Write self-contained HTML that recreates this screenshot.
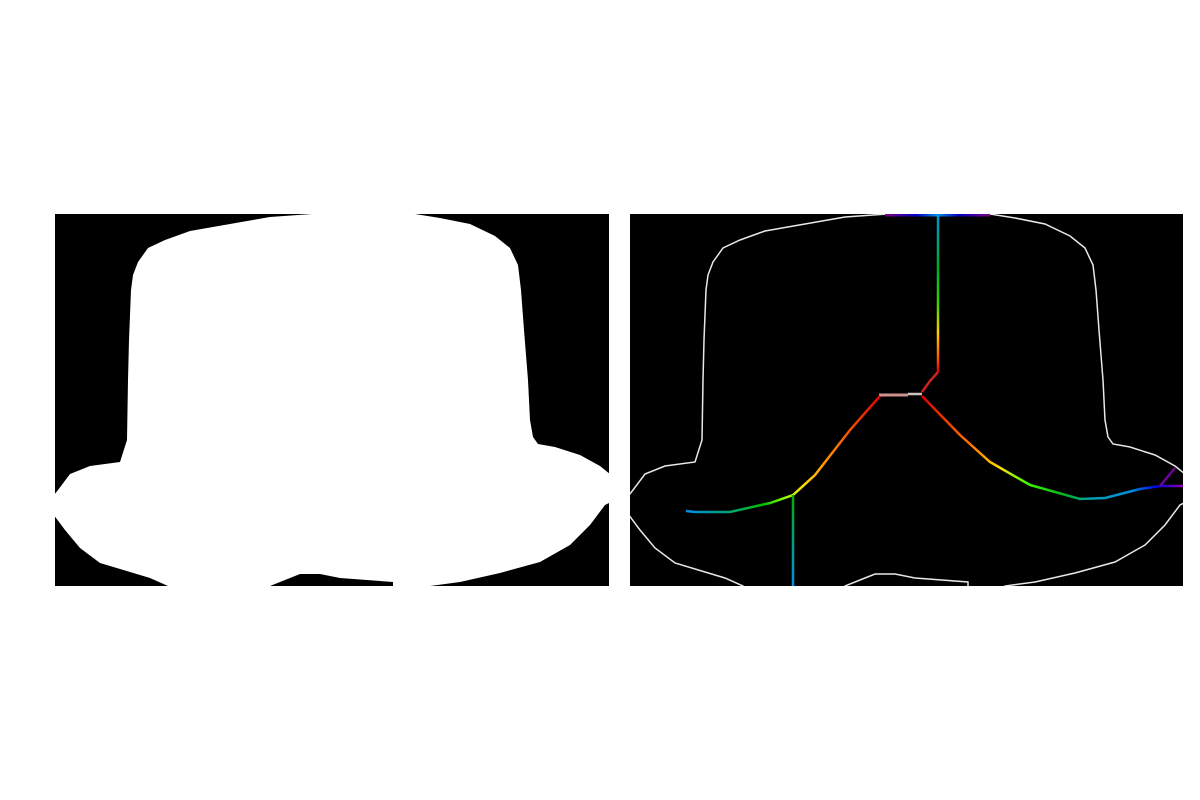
<!DOCTYPE html>
<html><head><meta charset="utf-8"><style>
html,body{margin:0;padding:0;background:#fff;width:1200px;height:800px;overflow:hidden}
svg{display:block}
</style></head><body>
<svg width="1200" height="800" xmlns="http://www.w3.org/2000/svg">
<defs>
<clipPath id="cl"><rect x="55" y="214" width="554" height="372"/></clipPath>
<clipPath id="cr"><rect x="630" y="214" width="553" height="372"/></clipPath>
<linearGradient id="gTop" x1="0" y1="214" x2="0" y2="372" gradientUnits="userSpaceOnUse">
<stop offset="0" stop-color="#0090e0"/><stop offset="0.35" stop-color="#00b020"/><stop offset="0.55" stop-color="#30d000"/><stop offset="0.75" stop-color="#ffd000"/><stop offset="0.9" stop-color="#ff6000"/><stop offset="1" stop-color="#e00000"/></linearGradient>
<linearGradient id="gLeft" x1="880" y1="0" x2="686" y2="0" gradientUnits="userSpaceOnUse">
<stop offset="0" stop-color="#e00000"/><stop offset="0.25" stop-color="#ff8000"/><stop offset="0.4" stop-color="#ffe000"/><stop offset="0.5" stop-color="#80ff00"/><stop offset="0.6" stop-color="#00c000"/><stop offset="0.8" stop-color="#00a080"/><stop offset="1" stop-color="#0090e0"/></linearGradient>
<linearGradient id="gDown" x1="0" y1="495" x2="0" y2="586" gradientUnits="userSpaceOnUse">
<stop offset="0" stop-color="#00b000"/><stop offset="0.5" stop-color="#00a080"/><stop offset="1" stop-color="#0090e0"/></linearGradient>
<linearGradient id="gRight" x1="922" y1="0" x2="1183" y2="0" gradientUnits="userSpaceOnUse">
<stop offset="0" stop-color="#e00000"/><stop offset="0.2" stop-color="#ff8000"/><stop offset="0.3" stop-color="#ffe000"/><stop offset="0.4" stop-color="#40ff00"/><stop offset="0.55" stop-color="#00b020"/><stop offset="0.65" stop-color="#00a0b0"/><stop offset="0.8" stop-color="#0090e0"/><stop offset="0.9" stop-color="#0000e0"/><stop offset="1" stop-color="#9000b0"/></linearGradient>
<linearGradient id="gEdge" x1="885" y1="0" x2="990" y2="0" gradientUnits="userSpaceOnUse">
<stop offset="0" stop-color="#800080"/><stop offset="0.3" stop-color="#0000c0"/><stop offset="0.5" stop-color="#0090e0"/><stop offset="0.7" stop-color="#0000c0"/><stop offset="1" stop-color="#800080"/></linearGradient>
</defs>
<rect x="55" y="214" width="554" height="372" fill="#000"/>
<rect x="630" y="214" width="553" height="372" fill="#000"/>
<g id="maskg" clip-path="url(#cl)"></g>
<g id="outg" clip-path="url(#cr)"></g>
<g id="skel" clip-path="url(#cr)">
<polyline points="885,215 990,215" stroke="url(#gEdge)" stroke-width="3" fill="none"/>
<polyline points="938,214 938,372" stroke="url(#gTop)" stroke-width="2.5" fill="none"/>
<polyline points="938,372 930,381 922,392" stroke="#d02020" stroke-width="2.5" fill="none"/>
<polyline points="879,395 908,395" stroke="#d09090" stroke-width="3" fill="none"/>
<polyline points="908,394 922,394" stroke="#d0c0c0" stroke-width="2.5" fill="none"/>
<polyline points="880,396 850,430 815,475 793,495 770,503 730,512 695,512 686,511" stroke="url(#gLeft)" stroke-width="2.5" fill="none"/>
<polyline points="793,495 793,586" stroke="url(#gDown)" stroke-width="2.5" fill="none"/>
<polyline points="922,396 960,435 990,462 1030,485 1080,499 1105,498 1140,489 1160,486 1183,486" stroke="url(#gRight)" stroke-width="2.5" fill="none"/>
<polyline points="1160,486 1175,468" stroke="#7000a0" stroke-width="2.5" fill="none"/>
</g>
</svg>
<script>
// hat outline points (left panel coordinates)
const hatX = [312,270,230,190,165,148,138,133,131,129,128,127,120,90,70,58,50,50,65,80,100,130,150,168,168,270,270,290,300,320,340,393,393,430,430,460,500,540,570,590,605,615,615,600,580,555,538,533,530,528,524,521,518,510,495,470,440,415,415];
const hatY = [214,217,224,231,240,248,262,275,290,340,380,440,462,466,474,490,500,510,530,548,563,572,578,586,592,592,586,578,574,574,578,582,592,592,586,582,573,562,545,525,505,500,478,466,455,447,444,437,420,380,330,290,265,248,236,224,218,214,208];
const panelOffset = 575;
const NS = 'http://www.w3.org/2000/svg';
function pts(off){let s=[];for(let i=0;i<hatX.length;i++)s.push((hatX[i]+off)+','+hatY[i]);return s.join(' ');}
const poly = document.createElementNS(NS,'polygon');
poly.setAttribute('points', pts(0) + ' 312,208');
poly.setAttribute('fill','#fff');


document.getElementById('maskg').appendChild(poly);
const out = document.createElementNS(NS,'polygon');
out.setAttribute('points', pts(panelOffset) + ' 887,208');
out.setAttribute('fill','none');
out.setAttribute('stroke','#e8e8e8');
out.setAttribute('stroke-width','1.5');


document.getElementById('outg').appendChild(out);
</script>
</body></html>
